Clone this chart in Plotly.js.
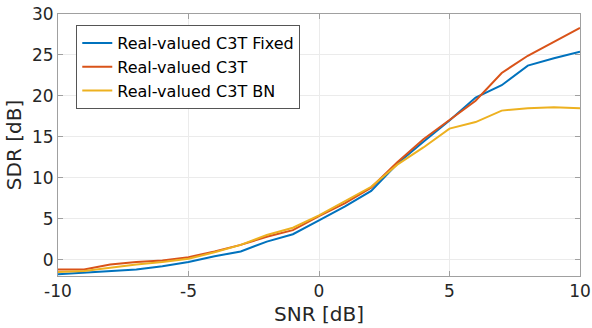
<!DOCTYPE html>
<html>
<head>
<meta charset="utf-8">
<script src="https://cdn.plot.ly/plotly-3.0.1.min.js"></script>
<style>html,body{margin:0;padding:0;background:#fff;}#chart{width:592px;height:328px;}</style>
</head>
<body>
<div id="chart"></div>
<script>
const snr = [-10,-9,-8,-7,-6,-5,-4,-3,-2,-1,0,1,2,3,4,5,6,7,8,9,10];
const sdrFixed = [-1.8,-1.6,-1.4,-1.2,-0.8,-0.3,0.4,1.0,2.2,3.1,4.8,6.5,8.4,11.7,14.4,17.0,19.8,21.3,23.7,24.6,25.4];
const sdrC3T = [-1.2,-1.2,-0.6,-0.3,-0.1,0.3,1.0,1.8,2.8,3.6,5.3,6.9,8.8,11.9,14.7,17.0,19.4,22.8,24.9,26.6,28.3];
const sdrBN = [-1.5,-1.4,-1.0,-0.6,-0.3,0.1,0.9,1.8,3.0,3.9,5.4,7.1,8.9,11.6,13.7,16.0,16.8,18.2,18.5,18.6,18.5];
const names = ["Real-valued C3T Fixed","Real-valued C3T","Real-valued C3T BN"];
const colors = ["#0072BD","#D95319","#EDB120"];
const series = [sdrFixed, sdrC3T, sdrBN];

const traces = series.map((s,i)=>({
  x: snr, y: s, type:'scatter', mode:'lines', name: names[i],
  line:{color:colors[i], width:2}
}));

const fontFam = 'DejaVu Sans, sans-serif';
const axisCommon = {
  showgrid:true, gridcolor:'#ebebeb', gridwidth:1,
  showline:true, linecolor:'#a0a0a0', linewidth:1, mirror:'ticks',
  ticks:'inside', ticklen:5, tickcolor:'#a0a0a0',
  zeroline:false, tickfont:{family:fontFam, size:17, color:'#262626'}
};
const layout = {
  width:592, height:328,
  margin:{l:58, r:12, t:14, b:52},
  paper_bgcolor:'#fff', plot_bgcolor:'#fff',
  font:{family:fontFam, color:'#262626'},
  xaxis: Object.assign({}, axisCommon, {
    range:[-10,10], tickvals:[-10,-5,0,5,10], ticktext:['-10','-5','0','5','10'],
    title:{text:'SNR [dB]', font:{family:fontFam, size:20, color:'#262626'}, standoff:6}
  }),
  yaxis: Object.assign({}, axisCommon, {
    range:[-2,30], tickvals:[0,5,10,15,20,25,30],
    title:{text:'SDR [dB]', font:{family:fontFam, size:20, color:'#262626'}, standoff:4}
  }),
  showlegend:true,
  legend:{x:0.035, y:0.958, xanchor:'left', yanchor:'top',
    bgcolor:'#fff', bordercolor:'#555', borderwidth:1,
    font:{family:fontFam, size:16, color:'#000'}, itemwidth:30,
    tracegroupgap:0}
};
Plotly.newPlot('chart', traces, layout, {displayModeBar:false, staticPlot:true});
</script>
</body>
</html>
